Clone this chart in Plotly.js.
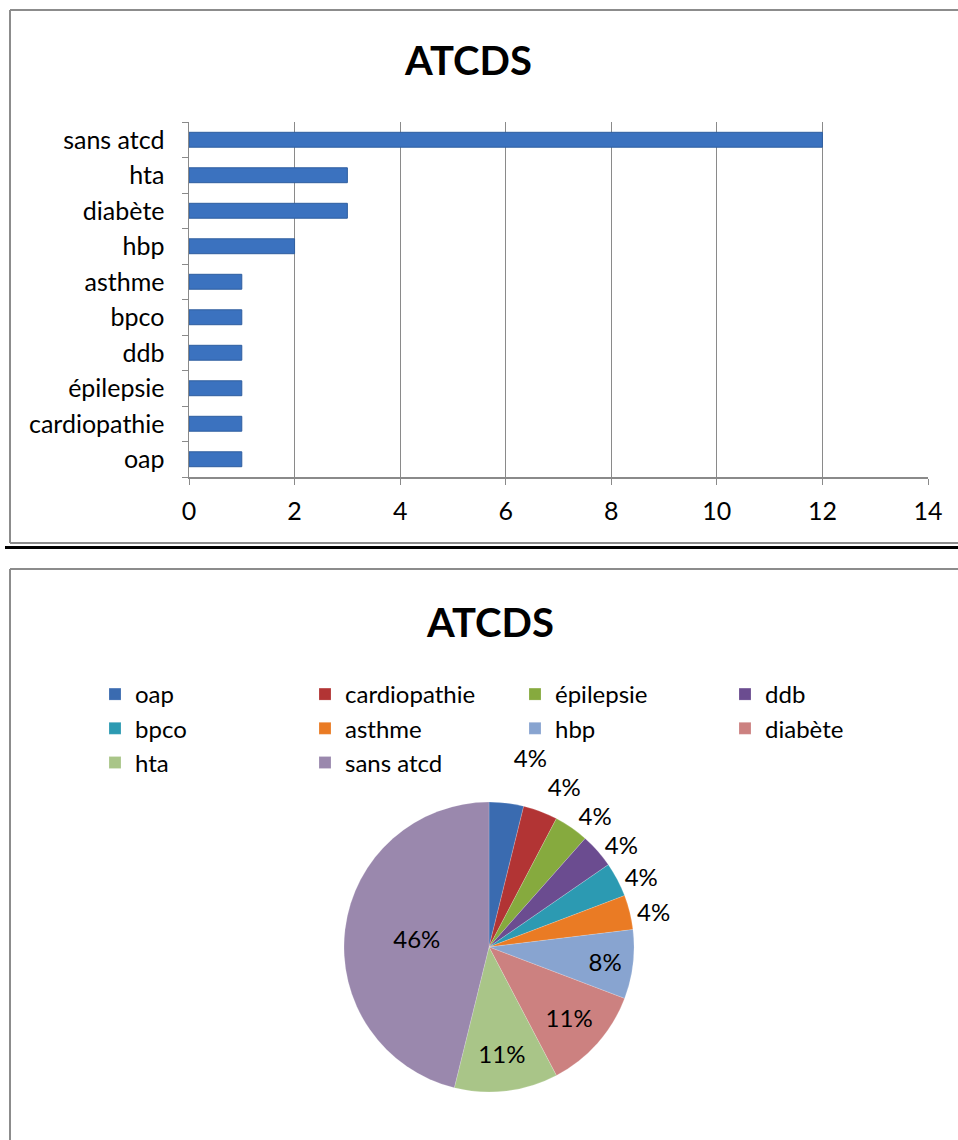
<!DOCTYPE html>
<html>
<head>
<meta charset="utf-8">
<script src="https://cdn.plot.ly/plotly-3.0.1.min.js"></script>
<style>
  html, body { margin: 0; padding: 0; background: #ffffff; }
  #chart { width: 958px; height: 1140px; }
  /* Excel-style pie: no leader lines for outside labels */
  #chart path.textline { stroke-opacity: 0 !important; }
</style>
</head>
<body>
<div id="chart"></div>
<script>
// ---- data ----
const chartTitle = "ATCDS";
const categories = ["oap", "cardiopathie", "épilepsie", "ddb", "bpco", "asthme", "hbp", "diabète", "hta", "sans atcd"];
const counts = [1, 1, 1, 1, 1, 1, 2, 3, 3, 12];
const pieLabels = ["4%", "4%", "4%", "4%", "4%", "4%", "8%", "11%", "11%", "46%"];
const xTicks = [0, 2, 4, 6, 8, 10, 12, 14];
const sliceColors = ["#3a6bb0", "#b23434", "#86aa3e", "#6b4c90", "#2c9ab2", "#ea7b24", "#88a4d0", "#cc8180", "#a9c588", "#9a88ad"];

// ---- layout helpers (pixel -> paper) ----
const W = 958, H = 1140;
const px = x => x / W;
const py = y => 1 - y / H;

const FONT = "Lato, 'Open Sans', sans-serif";

const barTrace = {
  type: "bar",
  orientation: "h",
  y: categories,
  x: counts,
  marker: { color: "#3b72bf", line: { color: "#2f5e9f", width: 1 } },
  width: 0.42,
  showlegend: false,
  hoverinfo: "x+y",
  xaxis: "x",
  yaxis: "y"
};

const positions = counts.map(v => v === 1 ? "outside" : "inside");

const pieTrace = {
  type: "pie",
  labels: categories,
  values: counts,
  text: pieLabels,
  textinfo: "text",
  textposition: positions,
  insidetextorientation: "horizontal",
  textfont: { family: FONT, size: 24, color: "#000000" },
  sort: false,
  direction: "clockwise",
  rotation: 0,
  marker: { colors: sliceColors, line: { color: "rgba(255,255,255,0.35)", width: 0.5 } },
  domain: { x: [px(489 - 145), px(489 + 145)], y: [py(1092), py(802)] },
  showlegend: true,
  automargin: false
};

const layout = {
  width: W,
  height: H,
  margin: { l: 0, r: 0, t: 0, b: 0 },
  paper_bgcolor: "#ffffff",
  plot_bgcolor: "rgba(0,0,0,0)",
  font: { family: FONT, size: 24, color: "#000000" },
  xaxis: {
    domain: [px(189), px(928)],
    range: [0, 14],
    tickvals: xTicks,
    ticktext: xTicks.map(String),
    showgrid: true,
    gridcolor: "#8a8a8a",
    gridwidth: 1,
    showline: true,
    linecolor: "#8a8a8a",
    linewidth: 1.5,
    ticks: "outside",
    ticklen: 6,
    tickcolor: "#8a8a8a",
    ticklabelstandoff: 5,
    zeroline: false,
    fixedrange: true,
    anchor: "y",
    tickfont: { family: FONT, size: 25, color: "#000000" }
  },
  yaxis: {
    domain: [py(477), py(122)],
    type: "category",
    categoryorder: "array",
    categoryarray: categories,
    showline: true,
    linecolor: "#8a8a8a",
    linewidth: 1.5,
    ticks: "outside",
    tickson: "boundaries",
    ticklen: 6,
    tickcolor: "#8a8a8a",
    ticklabelstandoff: 18,
    showgrid: false,
    zeroline: false,
    fixedrange: true,
    anchor: "x",
    tickfont: { family: FONT, size: 25, color: "#000000" }
  },
  legend: {
    orientation: "h",
    x: px(95),
    xanchor: "left",
    y: py(672),
    yanchor: "top",
    entrywidth: 165,
    entrywidthmode: "pixels",
    traceorder: "normal",
    font: { family: FONT, size: 24, color: "#000000" },
    bgcolor: "rgba(0,0,0,0)",
    itemclick: false,
    itemdoubleclick: false
  },
  annotations: [
    { text: "<b>" + chartTitle + "</b>", x: px(468), y: py(60), xref: "paper", yref: "paper",
      xanchor: "center", yanchor: "middle", showarrow: false,
      font: { family: FONT, size: 40, color: "#000000" } },
    { text: "<b>" + chartTitle + "</b>", x: px(490), y: py(622), xref: "paper", yref: "paper",
      xanchor: "center", yanchor: "middle", showarrow: false,
      font: { family: FONT, size: 40, color: "#000000" } }
  ],
  shapes: [
    // top chart frame (right side runs off the page)
    { type: "line", xref: "paper", yref: "paper", x0: px(10), x1: px(W + 5), y0: py(10), y1: py(10),
      line: { color: "#8c8c8c", width: 2 } },
    { type: "line", xref: "paper", yref: "paper", x0: px(10), x1: px(10), y0: py(10), y1: py(543),
      line: { color: "#8c8c8c", width: 2 } },
    { type: "line", xref: "paper", yref: "paper", x0: px(10), x1: px(W + 5), y0: py(543), y1: py(543),
      line: { color: "#8c8c8c", width: 2 } },
    // black separator
    { type: "line", xref: "paper", yref: "paper", x0: px(5), x1: px(W + 5), y0: py(547.5), y1: py(547.5),
      line: { color: "#000000", width: 3 } },
    // bottom chart frame
    { type: "line", xref: "paper", yref: "paper", x0: px(10), x1: px(W + 5), y0: py(569), y1: py(569),
      line: { color: "#8c8c8c", width: 2 } },
    { type: "line", xref: "paper", yref: "paper", x0: px(10), x1: px(10), y0: py(569), y1: py(H + 5),
      line: { color: "#8c8c8c", width: 2 } }
  ]
};

Plotly.newPlot("chart", [barTrace, pieTrace], layout, { displayModeBar: false, staticPlot: true });
</script>
</body>
</html>
